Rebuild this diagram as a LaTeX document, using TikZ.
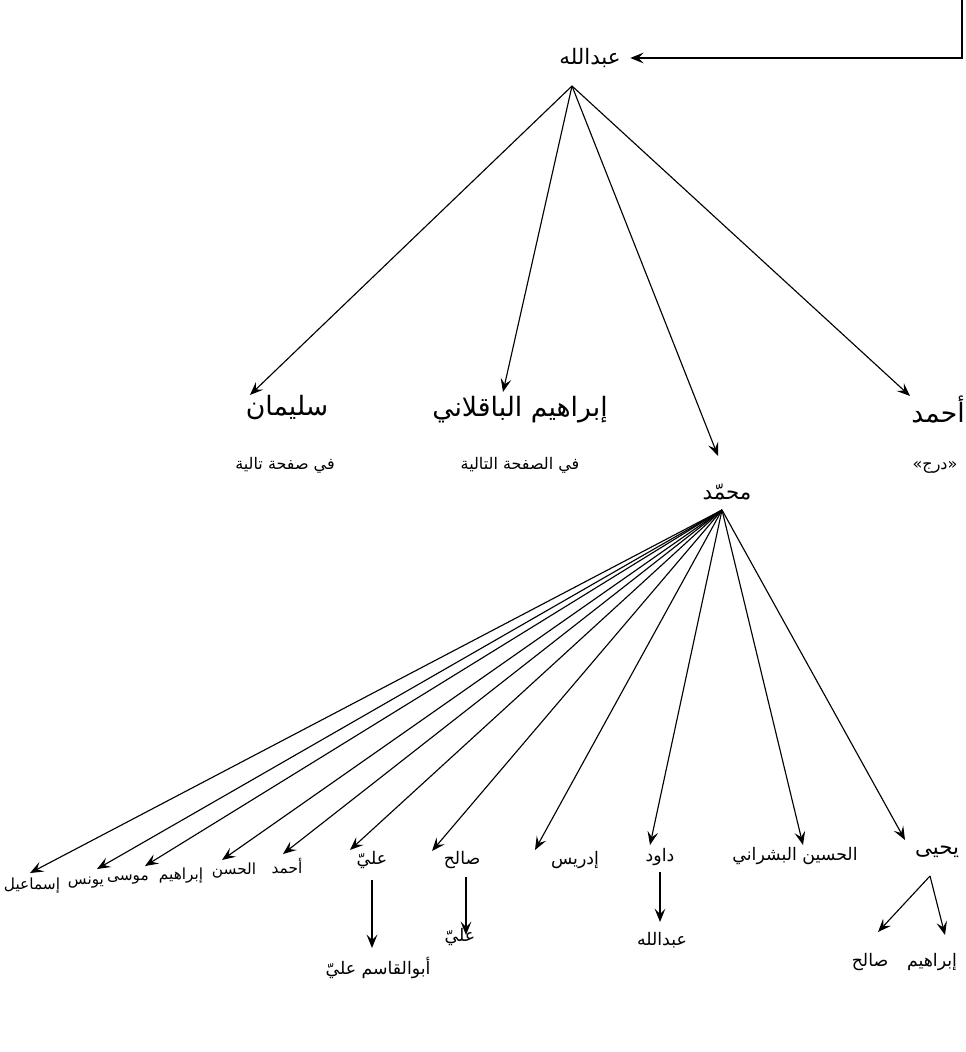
\documentclass[tikz,border=0pt]{standalone}
\usepackage{fontspec}
\newfontfamily\arabicfont[Script=Arabic]{DejaVu Sans}
\TeXXeTstate=1
\usetikzlibrary{arrows.meta}
\newcommand\AR[1]{\arabicfont\beginR #1\endR}
\begin{document}
\begin{tikzpicture}[x=0.75pt,y=-0.75pt,
  arr/.style={line width=0.85pt,-{Stealth[length=10pt,width=8pt,inset=4pt]}},
  big/.style={font=\arabicfont\fontsize{20}{24}\selectfont,inner sep=1pt},
  mid/.style={font=\arabicfont\fontsize{16}{19}\selectfont,inner sep=1pt},
  low/.style={font=\arabicfont\fontsize{13}{16}\selectfont,inner sep=1pt},
  sml/.style={font=\arabicfont\fontsize{12}{14}\selectfont,inner sep=1pt},
  tiny/.style={font=\arabicfont\fontsize{11.5}{14}\selectfont,inner sep=1pt}]
\useasboundingbox (0,0) rectangle (966,1052);
% root
\node[mid] (root) at (590,58) {\AR{عبدالله}};
\coordinate (topstart) at (962,0);
\draw[arr,shorten >=6pt] (topstart) |- (root.east);
\coordinate (apex) at (572,86);
% level 1
\node[big] (sul) at (287,408) {\AR{سليمان}};
\node[sml] (sulsub) at (285,465) {\AR{في صفحة تالية}};
\node[big] (ibr) at (520,410) {\AR{إبراهيم الباقلاني}};
\node[sml] (ibrsub) at (520,465) {\AR{في الصفحة التالية}};
\node[big] (ahm) at (938,410) {\AR{أحمد}};
\node[sml] (ahmsub) at (935,467) {\AR{«درج»}};
\node[mid] (muh) at (727,492) {\AR{محمّد}};
\coordinate (tsul) at (250,395);
\coordinate (tibr) at (503,392);
\coordinate (tmuh) at (718,456);
\coordinate (tahm) at (910,396);
\foreach \t in {tsul,tibr,tmuh,tahm} \draw[arr] (apex) -- (\t);
% level 2
\coordinate (apexb) at (722,510);
\node[tiny] (c1) at (32,886) {\AR{إسماعيل}};
\node[tiny] (c2) at (86,883) {\AR{يونس}};
\node[tiny] (c3) at (128,880) {\AR{موسى}};
\node[tiny] (c4) at (181,876) {\AR{إبراهيم}};
\node[tiny] (c5) at (234,871) {\AR{الحسن}};
\node[tiny] (c6) at (287,866) {\AR{أحمد}};
\node[low] (c7) at (372,860) {\AR{عليّ}};
\node[low] (c8) at (462,860) {\AR{صالح}};
\node[low] (c9) at (575,860) {\AR{إدريس}};
\node[low] (c10) at (660,857) {\AR{داود}};
\node[low] (c11) at (795,856) {\AR{الحسين البشراني}};
\node[mid] (c12) at (937,852) {\AR{يحيى}};
\coordinate (t1) at (30,873);
\coordinate (t2) at (97,869);
\coordinate (t3) at (145,866);
\coordinate (t4) at (222,860);
\coordinate (t5) at (283,854);
\coordinate (t7) at (350,850);
\coordinate (t8) at (432,851);
\coordinate (t9) at (535,850);
\coordinate (t10) at (650,845);
\coordinate (t11) at (803,845);
\coordinate (t12) at (905,840);
\foreach \t in {t1,t2,t3,t4,t5,t7,t8,t9,t10,t11,t12} \draw[arr] (apexb) -- (\t);
% level 3
\node[low] (g1) at (378,968) {\AR{أبوالقاسم عليّ}};
\node[low] (g2) at (460,937) {\AR{عليّ}};
\node[low] (g3) at (662,940) {\AR{عبدالله}};
\node[low] (g4) at (870,962) {\AR{صالح}};
\node[low] (g5) at (932,962) {\AR{إبراهيم}};
\coordinate (s7) at (372,880);  \coordinate (e7) at (372,948);
\coordinate (s8) at (466,877);  \coordinate (e8) at (466,935);
\coordinate (s10) at (660,872); \coordinate (e10) at (660,922);
\coordinate (s12) at (930,876); \coordinate (e12a) at (878,932); \coordinate (e12b) at (945,935);
\draw[arr] (s7) -- (e7);
\draw[arr] (s8) -- (e8);
\draw[arr] (s10) -- (e10);
\draw[arr] (s12) -- (e12a);
\draw[arr] (s12) -- (e12b);
\end{tikzpicture}
\end{document}
